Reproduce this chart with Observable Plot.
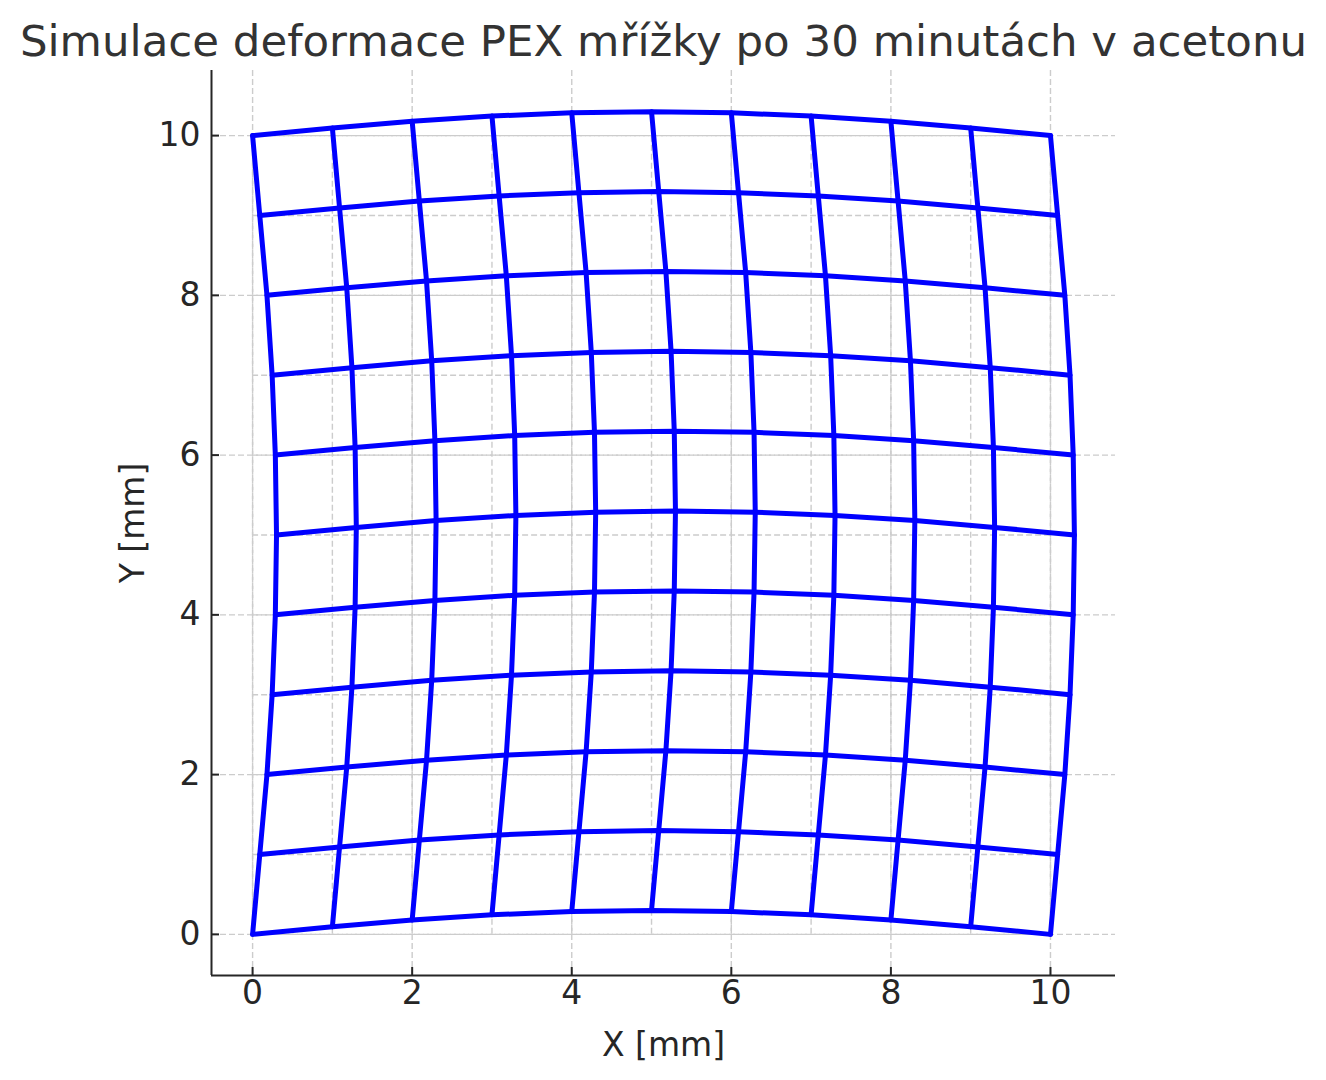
<!DOCTYPE html>
<html><head><meta charset="utf-8">
<script src="https://cdn.jsdelivr.net/npm/d3@7"></script>
<script src="https://cdn.jsdelivr.net/npm/@observablehq/plot@0.6"></script>
<style>body{margin:0;background:#fff;}</style>
</head><body><div id="chart"></div>
<script>
// ---- data ----
const title = "Simulace deformace PEX mřížky po 30 minutách v acetonu";
const xLabel = "X [mm]";
const yLabel = "Y [mm]";
// original (undeformed) grid positions, mm
const gridX = [0, 1, 2, 3, 4, 5, 6, 7, 8, 9, 10];
const gridY = [0, 1, 2, 3, 4, 5, 6, 7, 8, 9, 10];
// horizontal displacement of each grid row (row index = y), mm
const rowShiftX = [0, 0.09, 0.18, 0.245, 0.285, 0.30, 0.285, 0.245, 0.18, 0.09, 0];
// vertical displacement of each grid column (column index = x), mm
const colShiftY = [0, 0.095, 0.18, 0.245, 0.285, 0.30, 0.285, 0.245, 0.18, 0.095, 0];
const ticks = [0, 2, 4, 6, 8, 10];
const xDomain = [-0.515, 10.815];
const yDomain = [-0.515, 10.815];

// deformed grid nodes
const nodes = [];
gridY.forEach((gy, j) => gridX.forEach((gx, i) => {
  nodes.push({x: gx + rowShiftX[j], y: gy + colShiftY[i], row: j, col: i});
}));

const font = "DejaVu Sans, Liberation Sans, sans-serif";
const gray = "#cccccc";
const dash = "6,3";
const fmt = d => String(d);

const chart = Plot.plot({
  width: 1326,
  height: 1080,
  marginTop: 70,
  marginBottom: 105,
  marginLeft: 211,
  marginRight: 211,
  style: {fontFamily: font, background: "#fff"},
  x: {domain: xDomain, axis: null},
  y: {domain: yDomain, axis: null},
  marks: [
    // axis grid at major ticks (full extent)
    Plot.ruleX(ticks, {stroke: gray, strokeWidth: 1.4, strokeDasharray: dash}),
    Plot.ruleY(ticks, {stroke: gray, strokeWidth: 1.4, strokeDasharray: dash}),
    // original grid (dashed)
    Plot.ruleX(gridX, {y1: gridY[0], y2: gridY[gridY.length - 1], stroke: gray, strokeWidth: 1.4, strokeDasharray: dash}),
    Plot.ruleY(gridY, {x1: gridX[0], x2: gridX[gridX.length - 1], stroke: gray, strokeWidth: 1.4, strokeDasharray: dash}),
    // deformed grid
    Plot.line(nodes, {x: "x", y: "y", z: "row", stroke: "#0000ff", strokeWidth: 5, strokeLinejoin: "round"}),
    Plot.line(nodes, {x: "x", y: "y", z: "col", stroke: "#0000ff", strokeWidth: 5, strokeLinejoin: "round"}),
    // spines
    Plot.ruleX([xDomain[0]], {stroke: "#262626", strokeWidth: 2}),
    Plot.ruleY([yDomain[0]], {stroke: "#262626", strokeWidth: 2}),
    // axes (inward ticks)
    Plot.axisX(ticks, {anchor: "bottom", tickSize: -8, tickPadding: 13, tickFormat: fmt, fontSize: 33, stroke: "#262626", strokeWidth: 2, fill: "#262626", label: null}),
    Plot.axisY(ticks, {anchor: "left", tickSize: -8, tickPadding: 19, tickFormat: fmt, fontSize: 33, stroke: "#262626", strokeWidth: 2, fill: "#262626", label: null}),
    // labels
    Plot.text([xLabel], {frameAnchor: "bottom", dy: 80, lineAnchor: "bottom", textAnchor: "middle", fontSize: 33, fill: "#262626"}),
    Plot.text([yLabel], {frameAnchor: "left", dx: -68, rotate: -90, lineAnchor: "bottom", textAnchor: "middle", fontSize: 33, fill: "#262626"}),
    Plot.text([title], {frameAnchor: "top", dy: -15, lineAnchor: "bottom", textAnchor: "middle", fontSize: 43.5, fill: "#333333"})
  ]
});
document.getElementById("chart").appendChild(chart);
</script>
</body></html>
